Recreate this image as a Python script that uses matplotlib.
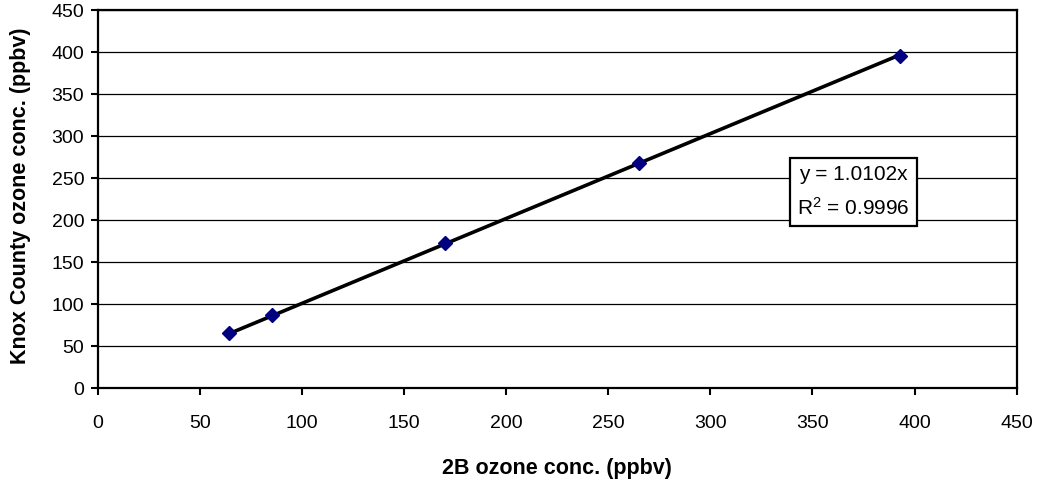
import matplotlib.pyplot as plt
import numpy as np

plt.rcParams['font.family'] = ['Liberation Sans', 'DejaVu Sans']

# data
x_2b = [64, 85, 170, 265, 393]
y_knox = [66, 87, 173, 268, 396]
slope = 1.0102
r_squared = 0.9996

x_ticks = list(range(0, 451, 50))
y_ticks = list(range(0, 451, 50))

fig = plt.figure(figsize=(10.45, 4.87), dpi=100)
ax = fig.add_axes([0.0938, 0.203, 0.879, 0.776])

# trend line through origin over data range
xs = np.array([min(x_2b), max(x_2b)])
ax.plot(xs, slope * xs, color='black', lw=2.6, zorder=3)
ax.plot(x_2b, y_knox, linestyle='none', marker='D', markersize=7,
        color='#000080', zorder=4)

ax.set_xlim(0, 450)
ax.set_ylim(0, 450)
ax.set_xticks(x_ticks)
ax.set_yticks(y_ticks)
ax.tick_params(direction='out', length=5, width=1.5, labelsize=14, colors='black')
ax.tick_params(axis='x', pad=14)
ax.tick_params(axis='y', pad=5)
ax.grid(True, axis='y', color='black', lw=0.9)
ax.set_axisbelow(True)

for side in ['left', 'bottom', 'top', 'right']:
    ax.spines[side].set_linewidth(1.6)

ax.set_xlabel('2B ozone conc. (ppbv)', fontsize=15.5, fontweight='bold')
ax.xaxis.set_label_coords(0.5, -0.212)
ax.xaxis.label.set_verticalalignment('center')
ax.set_ylabel('Knox County ozone conc. (ppbv)', fontsize=15.5, fontweight='bold')
ax.yaxis.set_label_coords(-0.084, 0.51)
ax.yaxis.label.set_verticalalignment('center')

ax.text(370, 234, f'y = {slope:.4f}x\n$\\mathregular{{R^2}}$ = {r_squared:.4f}',
        fontsize=15, ha='center', va='center', linespacing=1.7,
        bbox=dict(boxstyle='square,pad=0.35', fc='white', ec='black', lw=1.6),
        zorder=5)

fig.savefig('out.png', dpi=100)
